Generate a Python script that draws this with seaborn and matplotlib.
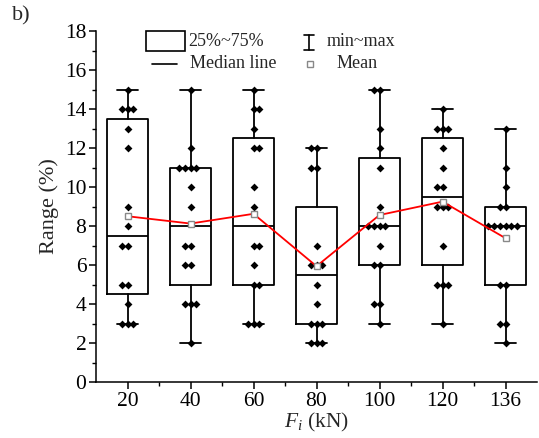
import numpy as np
import pandas as pd
import matplotlib
matplotlib.use("Agg")
import matplotlib.pyplot as plt
import seaborn as sns
from matplotlib.patches import Rectangle
from matplotlib.lines import Line2D
from matplotlib.ticker import MultipleLocator, FixedLocator

# ---- data -------------------------------------------------------------
categories = ["20", "40", "60", "80", "100", "120", "136"]
v20 = [15, 14, 14, 14, 13, 12, 9, 8, 7, 7, 5, 5, 4, 3, 3, 3]
v40 = [15, 12, 11, 11, 11, 11, 10, 9, 7, 7, 6, 6, 4, 4, 4, 2]
v60 = [15, 14, 14, 13, 12, 12, 10, 9, 7, 7, 6, 5, 5, 3, 3, 3]
v80 = [12, 12, 11, 11, 7, 6, 6, 6, 5, 4, 3, 3, 3, 2, 2, 2]
v100 = [15, 15, 13, 12, 11, 9, 8, 8, 8, 8, 7, 6, 6, 4, 4, 3]
v120 = [14, 13, 13, 13, 12, 11, 10, 10, 9, 9, 9, 7, 5, 5, 5, 3]
v136 = [13, 11, 10, 9, 9, 8, 8, 8, 8, 8, 8, 5, 5, 3, 3, 2]
y_ticks = [0, 2, 4, 6, 8, 10, 12, 14, 16, 18]

groups = [v20, v40, v60, v80, v100, v120, v136]
df = pd.DataFrame({
    "F": np.repeat(categories, [len(g) for g in groups]),
    "Range": np.concatenate(groups),
})

# ---- style ------------------------------------------------------------
sns.set_style("ticks")
plt.rcParams["font.family"] = ["Liberation Serif", "DejaVu Serif"]
plt.rcParams["mathtext.fontset"] = "custom"
plt.rcParams["mathtext.rm"] = "Liberation Serif"
plt.rcParams["mathtext.it"] = "Liberation Serif:italic"

W, H = 539, 438
fig = plt.figure(figsize=(W / 100, H / 100), dpi=100)
ax = fig.add_axes([96 / W, 1 - 382 / H, (537 - 96) / W, (382 - 31) / H])

# boxes (quartiles by midpoint rule, whiskers min~max)
stats = []
for cat, g in zip(categories, groups):
    q1, med, q3 = np.percentile(g, [25, 50, 75], method="midpoint")
    stats.append(dict(label=cat, med=med, q1=q1, q3=q3,
                      whislo=min(g), whishi=max(g), fliers=[]))
lw = 1.3
ax.bxp(stats, positions=range(len(categories)), widths=0.65, capwidths=0.33,
       showfliers=False, patch_artist=False,
       boxprops=dict(color="black", linewidth=lw),
       medianprops=dict(color="black", linewidth=lw),
       whiskerprops=dict(color="black", linewidth=lw),
       capprops=dict(color="black", linewidth=lw))

# individual points
sns.swarmplot(data=df, x="F", y="Range", order=categories, color="black",
              marker="D", size=4.0, ax=ax, zorder=3)

# mean line
n_before = len(ax.lines)
sns.pointplot(data=df, x="F", y="Range", order=categories, estimator="mean",
              errorbar=None, color="red", markers="s", ax=ax)
for ln in ax.lines[n_before:]:
    ln.set_linewidth(1.3)
    ln.set_color("red")
    ln.set_marker("s")
    ln.set_markersize(4.2)
    ln.set_markerfacecolor("white")
    ln.set_markeredgecolor("#888888")
    ln.set_markeredgewidth(1.0)
    ln.set_zorder(5)

# axes
ax.set_xlim(-0.5, len(categories) - 0.5)
ax.set_ylim(0, 18)
ax.set_yticks(y_ticks)
ax.yaxis.set_minor_locator(MultipleLocator(1))
ax.set_xticks(range(len(categories)))
ax.set_xticklabels(categories)
ax.xaxis.set_minor_locator(FixedLocator(np.arange(0.5, len(categories) - 0.5, 1)))
ax.tick_params(axis="both", which="major", length=5, width=1.1, labelsize=15.5,
               color="black", labelcolor="black", direction="out")
ax.tick_params(axis="y", which="major", pad=2)
ax.tick_params(axis="x", which="major", pad=2)
ax.tick_params(axis="both", which="minor", length=3, width=1.0, color="black",
               direction="out")
for s in ["top", "right"]:
    ax.spines[s].set_visible(False)
for s in ["left", "bottom"]:
    ax.spines[s].set_linewidth(1.1)
    ax.spines[s].set_color("black")
ax.set_xlabel(r"$F_i$ (kN)", fontsize=15.5, labelpad=0)
ax.set_ylabel("Range (%)", fontsize=16, labelpad=4)

# custom legend (figure pixel coords)
def fx(px):
    return px / W

def fy(py):
    return 1 - py / H

fig.add_artist(Rectangle((fx(146), fy(51)), fx(185) - fx(146), fy(31) - fy(51),
                         transform=fig.transFigure, fill=False,
                         edgecolor="black", linewidth=1.2))
fig.text(fx(188), fy(42), "25%~75%", fontsize=13, va="center", ha="left")
fig.add_artist(Line2D([fx(152), fx(177)], [fy(64), fy(64)],
                      transform=fig.transFigure, color="black", linewidth=1.2))
fig.text(fx(190), fy(64), "Median line", fontsize=13, va="center", ha="left")
# min~max symbol
fig.add_artist(Line2D([fx(309), fx(309)], [fy(35), fy(50)],
                      transform=fig.transFigure, color="black", linewidth=1.2))
for yy in (35, 50):
    fig.add_artist(Line2D([fx(304), fx(314)], [fy(yy), fy(yy)],
                          transform=fig.transFigure, color="black", linewidth=1.2))
fig.text(fx(327), fy(42), "min~max", fontsize=13, va="center", ha="left")
fig.add_artist(Line2D([fx(310)], [fy(64)], transform=fig.transFigure,
                      marker="s", markersize=4, markerfacecolor="white",
                      markeredgecolor="#888888", linestyle="none"))
fig.text(fx(337), fy(64), "Mean", fontsize=13, va="center", ha="left")

fig.text(fx(12), fy(16), "b)", fontsize=16, va="center", ha="left")

fig.savefig("out.png", dpi=100)
